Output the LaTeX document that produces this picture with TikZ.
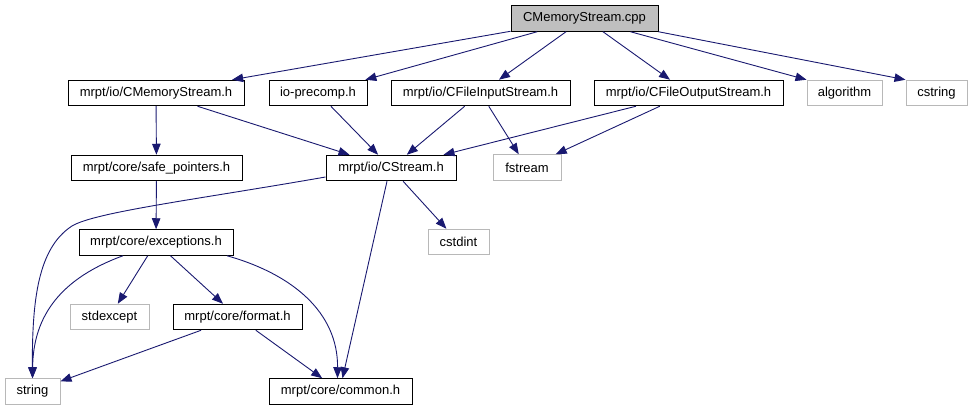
\documentclass[tikz,border=0pt]{standalone}
\usepackage{fontspec}
\setmainfont{Liberation Sans}
\usetikzlibrary{arrows.meta}

\definecolor{dep blue}{HTML}{191970}
\colorlet{box gray}{black!25}
\colorlet{sys edge}{black!28}
\tikzset{
  file/.style={draw=black, fill=white, line width=1pt,
  minimum height=25.5pt, inner sep=0pt,
  font=\fontsize{13}{15}\selectfont},
  sys file/.style={file, draw=sys edge},
  main file/.style={file, fill=box gray}
  }
\tikzstyle{dep} = [draw=dep blue, line width=0.9pt, -{Triangle[length=11pt,width=8.5pt]}]

\begin{document}
\begin{tikzpicture}[x=1pt, y=-1pt]
    \useasboundingbox (0,0) rectangle (973,411);

    % top file
    \node[main file, minimum width=147pt] (cpp) at (584.5,18.5) {CMemoryStream.cpp};

    % first row of includes
    \node[file, minimum width=176pt] (memh) at (156,93) {mrpt/io/CMemoryStream.h};
    \node[file, minimum width=98pt] (precomp) at (318,93) {io-precomp.h};
    \node[file, minimum width=179pt] (finh) at (480.5,93) {mrpt/io/CFileInputStream.h};
    \node[file, minimum width=189pt] (fouth) at (688.5,93) {mrpt/io/CFileOutputStream.h};
    \node[sys file, minimum width=75pt] (algorithm) at (844.5,93) {algorithm};
    \node[sys file, minimum width=61pt] (cstring) at (936.5,93) {cstring};

    % second row
    \node[file, minimum width=171pt] (safeptr) at (156.5,168) {mrpt/core/safe\_pointers.h};
    \node[file, minimum width=130pt] (cstream) at (391,168) {mrpt/io/CStream.h};
    \node[sys file, minimum width=68pt] (fstream) at (527,167.5) {fstream};

    % lower part
    \node[file, minimum width=154pt] (exceptions) at (156,242.5) {mrpt/core/exceptions.h};
    \node[sys file, minimum width=61pt] (cstdint) at (458.5,242) {cstdint};
    \node[sys file, minimum width=79pt] (stdexcept) at (109.5,317) {stdexcept};
    \node[file, minimum width=129pt] (format) at (237.5,317) {mrpt/core/format.h};
    \node[sys file, minimum width=55pt] (string) at (32.5,391.5) {string};
    \node[file, minimum width=143pt] (common) at (340.5,391.5) {mrpt/core/common.h};

    % includes of the cpp
    \foreach \target in {memh, precomp, finh, fouth} {
      \draw[dep] (cpp) -- (\target);
    }
    \draw[dep] ([xshift=-28pt]cpp.south east) -- (algorithm.north west);
    \draw[dep] (cpp.south east) -- (cstring.north west);

    % headers
    \draw[dep] (memh) -- (safeptr);
    \foreach \source in {memh, precomp, finh, fouth} {
      \draw[dep] (\source) -- (cstream);
    }
    \draw[dep] (finh) -- (fstream);
    \draw[dep] (fouth) -- (fstream);
    \draw[dep] (safeptr) -- (exceptions);
    \draw[dep] (cstream) -- (cstdint);
    \draw[dep] ([xshift=-4pt]cstream.south) -- ([xshift=2pt]common.north);
    \draw[dep] ([yshift=-9pt]cstream.west) .. controls (200,199) and (95,212) .. (72,226)
      .. controls (38,248) and (32,300) .. (string);
    \draw[dep] (exceptions) -- (stdexcept);
    \draw[dep] (exceptions) -- (format);
    \draw[dep] ([xshift=-33pt]exceptions.south) .. controls (62,278) and (33,315) .. (string);
    \draw[dep] ([xshift=71pt]exceptions.south) .. controls (292,274) and (338,312) .. ([xshift=-3pt]common.north);
    \draw[dep] (format) -- (string);
    \draw[dep] (format) -- (common);
\end{tikzpicture}
\end{document}
